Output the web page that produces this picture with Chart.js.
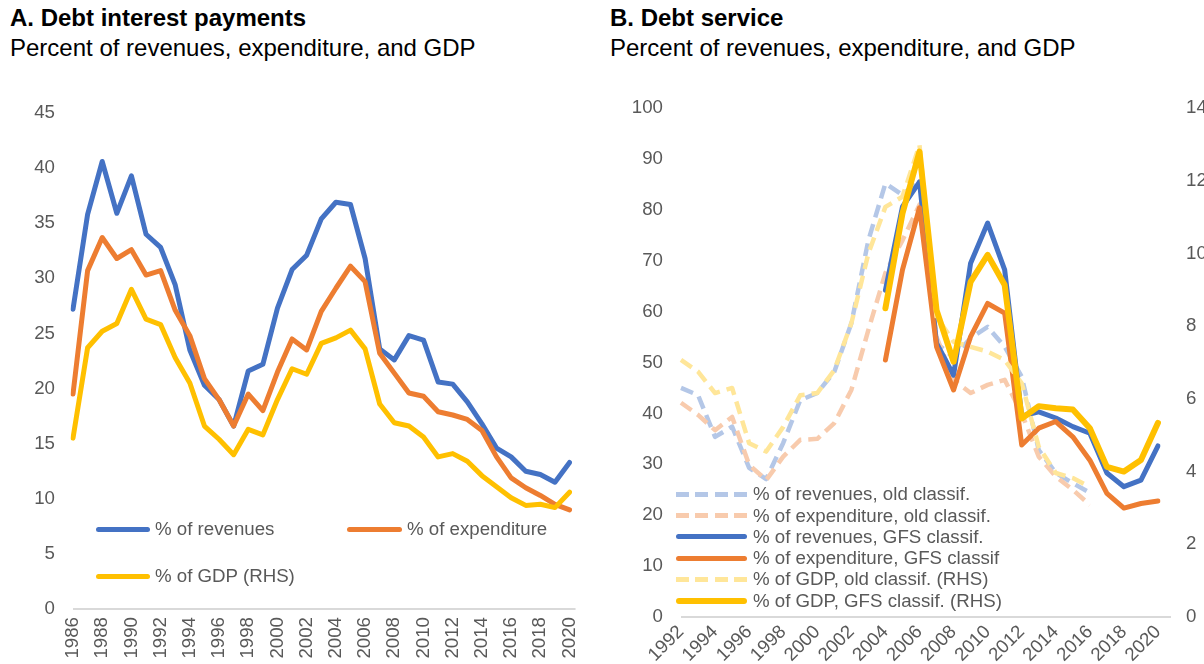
<!DOCTYPE html>
<html>
<head>
<meta charset="utf-8">
<script src="https://cdn.jsdelivr.net/npm/chart.js@4"></script>
<style>
  body { margin: 0; width: 1204px; height: 664px; overflow: hidden; background: #fff;
         font-family: "Liberation Sans", Arial, sans-serif; position: relative; }
  .title { position: absolute; font-size: 24px; line-height: 28px; font-weight: bold; color: #000; white-space: nowrap; }
  .sub { position: absolute; font-size: 24px; line-height: 28px; color: #000; white-space: nowrap; }
  canvas { position: absolute; }
  .lg { position: absolute; font-size: 18.7px; line-height: 22px; color: #595959; white-space: nowrap; }
  .sw { position: absolute; border-radius: 3px; }
</style>
</head>
<body>
<div class="title" style="left:10px;top:4px">A. Debt interest payments</div>
<div class="sub" style="left:10px;top:34px">Percent of revenues, expenditure, and GDP</div>
<div class="title" style="left:610px;top:4px">B. Debt service</div>
<div class="sub" style="left:610px;top:34px">Percent of revenues, expenditure, and GDP</div>

<canvas id="chartA" width="600" height="574" style="left:0;top:90px"></canvas>
<canvas id="chartB" width="650" height="574" style="left:600px;top:90px"></canvas>
<div id="legends"></div>

<script>
// Panel A: debt interest payments, 1986-2020
const yearsA = ["1986","1987","1988","1989","1990","1991","1992","1993","1994","1995","1996","1997","1998","1999","2000","2001","2002","2003","2004","2005","2006","2007","2008","2009","2010","2011","2012","2013","2014","2015","2016","2017","2018","2019","2020"];
const revenuesA = [27.2,35.8,40.6,35.9,39.3,34.0,32.8,29.4,23.5,20.3,19.0,16.6,21.6,22.2,27.3,30.8,32.1,35.4,36.9,36.7,31.8,23.6,22.6,24.8,24.4,20.6,20.4,18.8,16.8,14.6,13.8,12.5,12.2,11.5,13.3];
const expenditureA = [19.5,30.7,33.7,31.8,32.6,30.3,30.7,27.1,24.8,20.9,19.0,16.6,19.5,18.0,21.5,24.5,23.5,27.0,29.1,31.1,29.7,23.2,21.4,19.6,19.3,17.9,17.6,17.2,16.2,13.8,11.9,11.0,10.3,9.5,9.0];
// right-hand scale (not shown in the picture)
const gdpA = [3.1,4.74,5.04,5.18,5.8,5.26,5.16,4.56,4.1,3.32,3.08,2.8,3.26,3.16,3.8,4.36,4.26,4.82,4.92,5.06,4.72,3.72,3.38,3.32,3.12,2.76,2.82,2.68,2.42,2.22,2.02,1.88,1.9,1.84,2.12];

// Panel B: debt service, 1992-2020
const yearsB = ["1992","1993","1994","1995","1996","1997","1998","1999","2000","2001","2002","2003","2004","2005","2006","2007","2008","2009","2010","2011","2012","2013","2014","2015","2016","2017","2018","2019","2020"];
const revOld = [45.0,43.6,35.4,37.4,29.3,27.1,34.2,42.6,44.0,48.2,57.7,74.0,85.2,82.9,86.0,53.8,51.0,54.8,57.0,53.1,47.2,32.8,28.3,26.3,24.4,null,null,null,null];
const expOld = [42.1,39.7,36.7,39.3,29.9,26.9,31.5,34.8,35.0,38.1,44.6,56.4,67.6,74.0,81.0,55.0,46.6,44.0,45.6,46.6,40.0,31.5,27.6,25.0,22.0,null,null,null,null];
const revGFS = [null,null,null,null,null,null,null,null,null,null,null,null,64.2,80.6,85.5,53.8,47.5,69.5,77.4,68.2,39.5,40.3,39.1,37.4,36.1,28.3,25.6,26.9,33.6];
const expGFS = [null,null,null,null,null,null,null,null,null,null,null,null,50.5,68.2,80.4,53.1,44.6,55.1,61.6,59.7,33.8,37.1,38.4,35.4,30.8,24.3,21.4,22.3,22.8];
const gdpOld = [7.07,6.75,6.16,6.3,4.78,4.55,5.23,6.1,6.16,6.79,8.08,10.0,11.28,11.56,12.98,8.26,7.57,7.43,7.3,7.07,6.43,4.68,3.96,3.82,3.58,null,null,null,null];
const gdpGFS = [null,null,null,null,null,null,null,null,null,null,null,null,8.49,11.1,12.8,8.44,7.02,9.22,9.96,9.13,5.46,5.8,5.74,5.71,5.19,4.13,4.0,4.32,5.34];

const BLUE = "#4472C4", ORANGE = "#ED7D31", YELLOW = "#FFC000";
const LBLUE = "#B4C7E7", LORANGE = "#F8CBAD", LYELLOW = "#FFE699";
const GREY_TXT = "#595959";

Chart.defaults.font.family = '"Liberation Sans", Arial, sans-serif';
Chart.defaults.font.size = 18.7;
Chart.defaults.color = GREY_TXT;

// grey category axis line, a little longer than the plot on the right
const axisLine = {
  id: "axisLine",
  beforeDatasetsDraw(chart, args, opts) {
    const { ctx, chartArea } = chart;
    ctx.save();
    ctx.strokeStyle = "#D9D9D9";
    ctx.lineWidth = 2;
    ctx.beginPath();
    ctx.moveTo(chartArea.left, chartArea.bottom);
    ctx.lineTo(chartArea.right + (opts.extra || 0), chartArea.bottom);
    ctx.stroke();
    ctx.restore();
  }
};

const line = (data, color, width, axis, order, dash) => ({
  data: data,
  borderColor: color,
  borderWidth: width,
  borderDash: dash || [],
  borderCapStyle: dash ? "butt" : "round",
  borderJoinStyle: "round",
  pointRadius: 0,
  tension: 0,
  spanGaps: false,
  yAxisID: axis,
  order: order
});

const everyOther = function (val, i) {
  return i % 2 === 0 ? this.getLabelForValue(val) : "";
};

// fixed width for value axes; drop the extra top/bottom room the tick padding adds
const fixWidth = (w) => (s) => {
  s.width = w;
  s.paddingTop = 0;
  s.paddingBottom = 0;
};

const chartA = new Chart(document.getElementById("chartA"), {
  type: "line",
  data: {
    labels: yearsA,
    datasets: [
      line(revenuesA, BLUE, 5, "y", 3),
      line(expenditureA, ORANGE, 5, "y", 2),
      line(gdpA, YELLOW, 5, "y1", 1)
    ]
  },
  options: {
    responsive: false,
    animation: false,
    devicePixelRatio: 1,
    layout: { padding: { left: 0, right: 24, top: 23, bottom: 0 } },
    plugins: { legend: { display: false }, tooltip: { enabled: false }, axisLine: { extra: 6 } },
    scales: {
      x: {
        offset: false,
        grid: { display: false, drawTicks: false },
        border: { display: false },
        ticks: { autoSkip: false, minRotation: 90, maxRotation: 90, padding: 8, callback: everyOther },
        afterFit: (s) => { s.height = 55; }
      },
      y: {
        min: 0, max: 45,
        grid: { display: false, drawTicks: false },
        border: { display: false },
        ticks: { stepSize: 5, padding: 18 },
        afterFit: fixWidth(73)
      },
      y1: { display: false, min: 0, max: 9 }
    }
  },
  plugins: [axisLine]
});

const chartB = new Chart(document.getElementById("chartB"), {
  type: "line",
  data: {
    labels: yearsB,
    datasets: [
      line(revOld, LBLUE, 4.5, "y", 6, [13, 7]),
      line(expOld, LORANGE, 4.5, "y", 5, [13, 7]),
      line(revGFS, BLUE, 5, "y", 4),
      line(expGFS, ORANGE, 5, "y", 3),
      line(gdpOld, LYELLOW, 4.5, "y1", 2, [13, 7]),
      line(gdpGFS, YELLOW, 6, "y1", 1)
    ]
  },
  options: {
    responsive: false,
    animation: false,
    devicePixelRatio: 1,
    layout: { padding: { left: 0, right: 0, top: 18, bottom: 0 } },
    plugins: { legend: { display: false }, tooltip: { enabled: false }, axisLine: { extra: 13 } },
    scales: {
      x: {
        offset: false,
        grid: { display: false, drawTicks: false },
        border: { display: false },
        ticks: { autoSkip: false, minRotation: 45, maxRotation: 45, padding: 4, callback: everyOther },
        afterFit: (s) => { s.height = 47; }
      },
      y: {
        min: 0, max: 100,
        grid: { display: false, drawTicks: false },
        border: { display: false },
        ticks: { stepSize: 10, padding: 18 },
        afterFit: fixWidth(81)
      },
      y1: {
        position: "right",
        min: 0, max: 14,
        grid: { display: false, drawTicks: false },
        border: { display: false },
        ticks: { stepSize: 2, padding: 28 },
        afterFit: fixWidth(92)
      }
    }
  },
  plugins: [axisLine]
});

// legends drawn as html on top of the plots
const legendA = [
  { text: "% of revenues", color: BLUE, x: 96, y: 529, w: 54, tx: 155 },
  { text: "% of expenditure", color: ORANGE, x: 347, y: 529, w: 55, tx: 407 },
  { text: "% of GDP (RHS)", color: YELLOW, x: 96, y: 576, w: 54, tx: 155 }
];
const legendB = [
  { text: "% of revenues, old classif.", color: LBLUE, dash: true, y: 494 },
  { text: "% of expenditure, old classif.", color: LORANGE, dash: true, y: 515.7 },
  { text: "% of revenues, GFS classif.", color: BLUE, y: 536.7 },
  { text: "% of expenditure, GFS classif", color: ORANGE, y: 558.3 },
  { text: "% of GDP, old classif. (RHS)", color: LYELLOW, dash: true, y: 579.3 },
  { text: "% of GDP, GFS classif. (RHS)", color: YELLOW, y: 600.7, thick: 6 }
];
legendB.forEach((d) => { d.x = 676; d.w = 71; d.tx = 753; });

const box = document.getElementById("legends");
legendA.concat(legendB).forEach((d) => {
  const h = d.thick || 5;
  const sw = document.createElement("div");
  sw.className = "sw";
  sw.style.left = d.x + "px";
  sw.style.top = (d.y - h / 2) + "px";
  sw.style.width = d.w + "px";
  sw.style.height = h + "px";
  if (d.dash) {
    sw.style.borderRadius = "0";
    sw.style.background = "repeating-linear-gradient(to right, " + d.color + " 0 13px, transparent 13px 19.3px)";
  } else {
    sw.style.background = d.color;
  }
  box.appendChild(sw);
  const t = document.createElement("div");
  t.className = "lg";
  t.style.left = d.tx + "px";
  t.style.top = (d.y - 11) + "px";
  t.textContent = d.text;
  box.appendChild(t);
});
</script>
</body>
</html>
